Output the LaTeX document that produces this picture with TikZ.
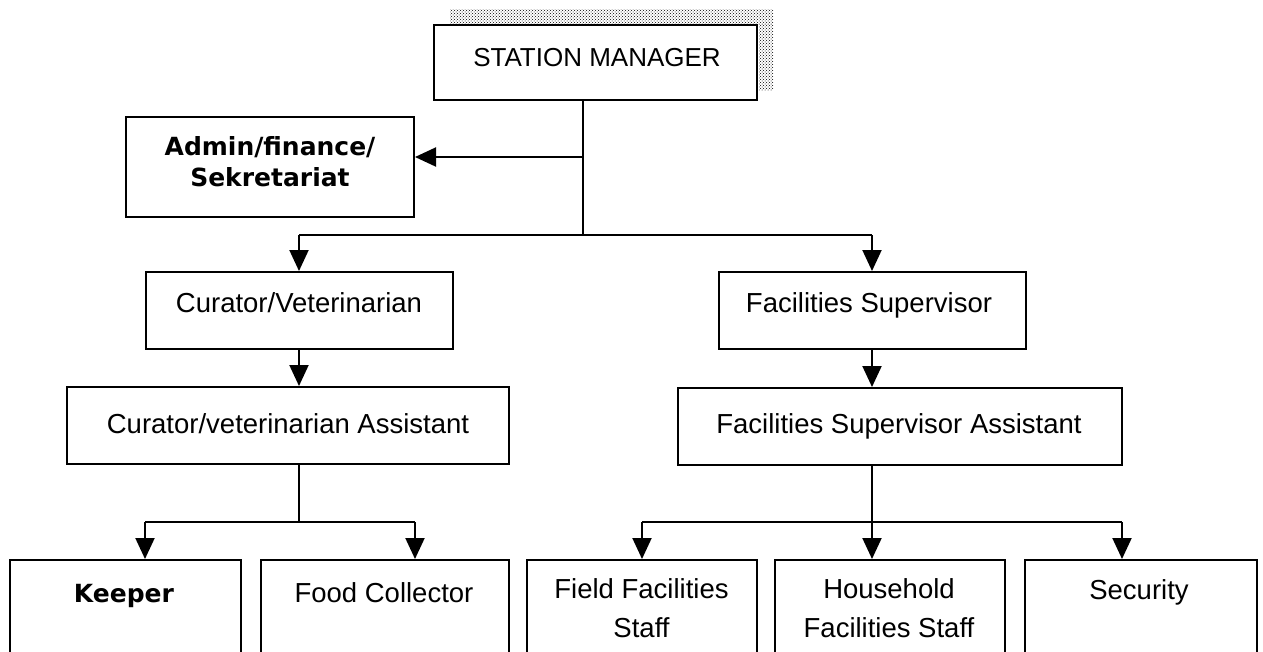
\documentclass[tikz,border=0pt]{standalone}
\usepackage{fontspec}
\setmainfont{Liberation Sans}
\newfontfamily\verd{DejaVu Sans}
\usetikzlibrary{arrows.meta,patterns}

\begin{document}
\begin{tikzpicture}[x=1pt, y=-1pt, line width=2pt,
    box/.style={draw, line width=2pt, inner sep=0pt},
    lbl/.style={anchor=base, align=center, inner sep=0pt, font=\fontsize{27.5}{39}\selectfont},
    blbl/.style={anchor=base, align=center, inner sep=0pt, font=\verd\bfseries\fontsize{25}{31}\selectfont},
    arr/.style={-{Triangle[length=21pt,width=19pt]}}]
\useasboundingbox (0,0) rectangle (1263,651);
\clip (0,0) rectangle (1263,651);
% scan noise round the top box
\fill[pattern=crosshatch dots, pattern color=black] (450,9) rectangle (773,24);
\fill[pattern=crosshatch dots, pattern color=black] (759,24) rectangle (773,90);

% boxes
\node[box, minimum width=323pt, minimum height=75pt] (sm) at (595.5,62.5) {};
\node[box, minimum width=288pt, minimum height=100pt] (admin) at (270,167) {};
\node[box, minimum width=307pt, minimum height=77pt] (cur) at (299,310.5) {};
\node[box, minimum width=307pt, minimum height=77pt] (fac) at (872,310.5) {};
\node[box, minimum width=442pt, minimum height=77pt] (cura) at (288,425.5) {};
\node[box, minimum width=444pt, minimum height=77pt] (faca) at (900,426.5) {};
\node[box, minimum width=231pt, minimum height=130pt] (keeper) at (125.5,625) {};
\node[box, minimum width=248pt, minimum height=130pt] (food) at (385,625) {};
\node[box, minimum width=230pt, minimum height=130pt] (field) at (642,625) {};
\node[box, minimum width=230pt, minimum height=130pt] (house) at (890,625) {};
\node[box, minimum width=232pt, minimum height=130pt] (secur) at (1141,625) {};

% texts
\node[lbl, font=\fontsize{26}{30}\selectfont] (smt) at (597,66) {STATION MANAGER};
\node[blbl] (admint) at (270,186) {Admin/finance/\\Sekretariat};
\node[lbl] (curt) at (299,312) {Curator/Veterinarian};
\node[lbl] (facat) at (869,312) {Facilities Supervisor};
\node[lbl] (curat) at (288,433) {Curator/veterinarian Assistant};
\node[lbl] (facaat) at (899,433) {Facilities Supervisor Assistant};
\node[blbl] (keepert) at (124,602) {Keeper};
\node[lbl] (foodt) at (384,602) {Food Collector};
\node[lbl] (fieldt) at (641.5,637) {Field Facilities\\Staff};
\node[lbl] (houset) at (889,637) {Household\\Facilities Staff};
\node[lbl] (secart) at (1139,599) {Security};

% connectors
\coordinate (split) at (583,235);
\coordinate (adm) at (583,157);
\draw (sm.south -| split) -- (split);
\draw[arr] (adm) -- (adm -| admin.east);
\draw (split -| cur.north) -- (split -| fac.north);
\draw[arr] (split -| cur.north) -- (cur.north);
\draw[arr] (split -| fac.north) -- (fac.north);
\draw[arr] (cur.south) -- (cur.south |- cura.north);
\draw[arr] (fac.south) -- (fac.south |- faca.north);

\coordinate (lsplit) at (299,522);
\coordinate (kp) at (145,522);
\coordinate (fc) at (415,522);
\draw (cura.south -| lsplit) -- (lsplit);
\draw (kp) -- (fc);
\draw[arr] (kp) -- (kp |- keeper.north);
\draw[arr] (fc) -- (fc |- food.north);

\coordinate (rsplit) at (872,522);
\coordinate (sc) at (1122,522);
\draw (rsplit -| field.north) -- (sc);
\draw[arr] (faca.south -| rsplit) -- (house.north -| rsplit);
\draw[arr] (rsplit -| field.north) -- (field.north);
\draw[arr] (sc) -- (sc |- secur.north);
\end{tikzpicture}
\end{document}
